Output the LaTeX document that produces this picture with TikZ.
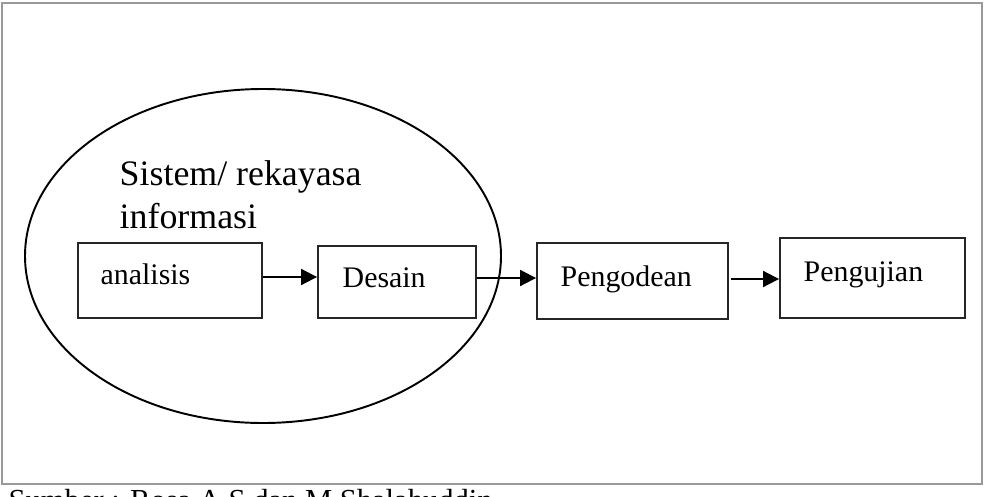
\documentclass[tikz,border=0pt]{standalone}
\usepackage{fontspec}
\setmainfont{Liberation Serif}
\usepackage{tikz}
\usetikzlibrary{arrows.meta, positioning, calc}

\tikzset{
    stagebox/.style={draw=black!85, line width=1.1pt, rectangle, inner sep=0pt},
    stagetext/.style={anchor=base west, inner sep=0pt, font=\fontsize{17}{20}\selectfont},
    flow/.style={-{Triangle[length=9pt, width=9pt]}, line width=1.1pt}
}

\begin{document}
\begin{tikzpicture}[>=Stealth, thick, x=0.02cm, y=-0.02cm]
        \useasboundingbox (0,0) rectangle (994,497);
        % Outer frame
        \draw [gray!80, line width=1.4pt] (2,3) rectangle (982,484);
        % Scope of system / information engineering
        \draw [line width=1.1pt] (263,256) ellipse (238 and 167);
        \node [anchor=base west, inner sep=0pt, align=left,
               font=\fontsize{20.4}{24}\selectfont] (scope) at (119,228)
              {Sistem/ rekayasa\\informasi};
        % Stages
        \node [stagebox, minimum width=3.68cm, minimum height=1.5cm] (ana) at (170,280.5) {};
        \node [stagebox, minimum width=3.16cm, minimum height=1.44cm] (des) at (397,282) {};
        \node [stagebox, minimum width=3.82cm, minimum height=1.52cm] (kod) at (632.5,281) {};
        \node [stagebox, minimum width=3.7cm, minimum height=1.6cm] (uji) at (872.5,278) {};
        \node [stagetext] (anaT) at (100,284) {analisis};
        \node [stagetext] (desT) at (342,287) {Desain};
        \node [stagetext] (kodT) at (560,286) {Pengodean};
        \node [stagetext] (ujiT) at (803,281) {Pengujian};
        % Flow between stages
        \draw [flow] (ana.east |- 0,277) -- (des.west |- 0,277);
        \draw [flow] (des.east |- 0,278) -- (kod.west |- 0,278);
        \draw [flow] ($(kod.east |- 0,279)+(2,0)$) -- (uji.west |- 0,279);
        % Source line
        \node [anchor=base west, inner sep=0pt, font=\fontsize{17.4}{20}\selectfont] (src) at (8,510)
              {Sumber : Rosa A.S dan M.Shalahuddin};
    \end{tikzpicture}
\end{document}
